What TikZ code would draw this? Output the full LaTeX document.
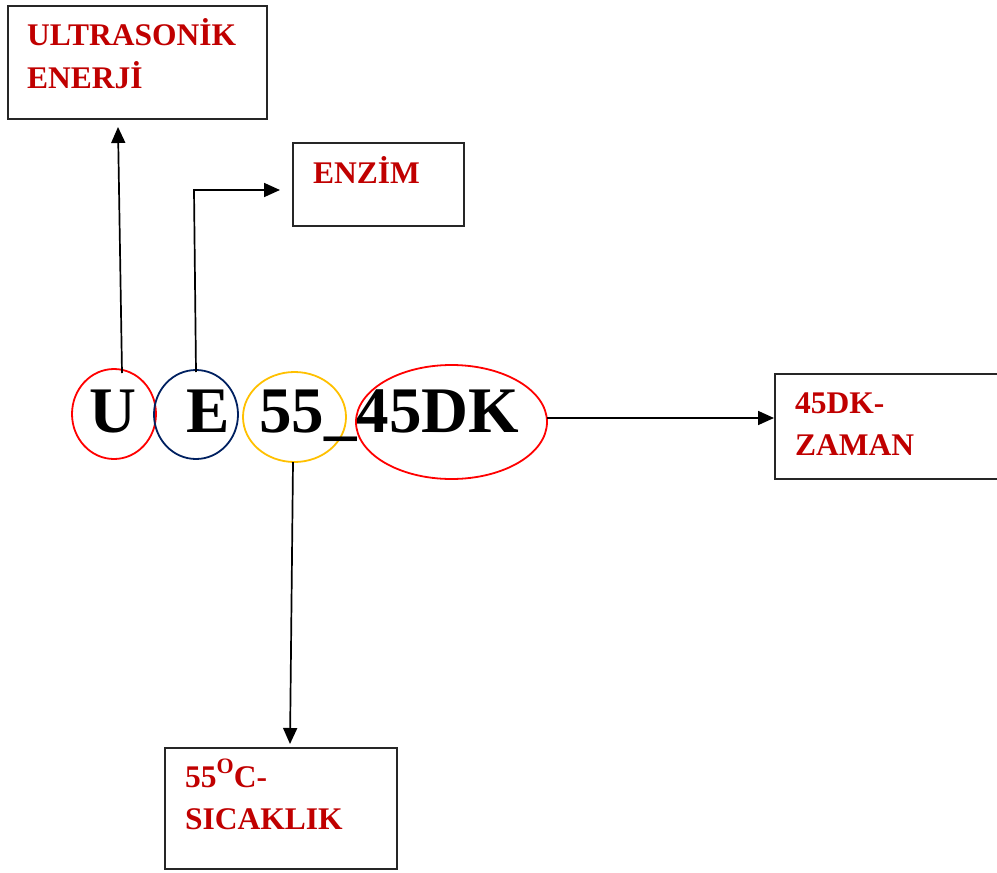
\documentclass[tikz,border=0pt]{standalone}
\usepackage{fontspec}
\setmainfont{Liberation Serif}
\usetikzlibrary{arrows.meta,shapes.geometric}
\definecolor{lblred}{HTML}{C00000}
\definecolor{cred}{HTML}{FF0000}
\definecolor{cnavy}{HTML}{002060}
\definecolor{cgold}{HTML}{FFC000}
\tikzset{
  box/.style={draw=black!85, line width=2pt, anchor=north west, inner sep=0pt},
  lbl/.style={anchor=base west, inner sep=0pt, text=lblred, font=\fontsize{31.5}{36}\selectfont\bfseries},
  big/.style={anchor=base, inner sep=0pt, font=\fontsize{65}{70}\selectfont\bfseries},
  ring/.style={draw, ellipse, line width=1.8pt, inner sep=0pt},
  arr/.style={line width=1.7pt, -{Triangle[length=16pt,width=14pt]}}
}
\begin{document}
\begin{tikzpicture}[x=1pt,y=-1pt]
\useasboundingbox (0,0) rectangle (997,873);
\begin{scope}
\clip (0,0) rectangle (997,873);
% boxes
\node[box, minimum width=259pt, minimum height=113pt] (b1) at (7,5) {};
\node[box, minimum width=171pt, minimum height=83pt] (b2) at (292,142) {};
\node[box, minimum width=240pt, minimum height=105pt] (b3) at (774,373) {};
\node[box, minimum width=232pt, minimum height=121pt] (b4) at (164,747) {};
\end{scope}
% box labels
\node[lbl] (t1a) at (27,45) {ULTRASONİK};
\node[lbl] (t1b) at (27,88) {ENERJİ};
\node[lbl] (t2) at (313,183) {ENZİM};
\node[lbl] (t3a) at (795,413) {45DK-};
\node[lbl] (t3b) at (795,455) {ZAMAN};
\node[lbl] (t4a) at (185,787) {55\raisebox{0.42em}{\fontsize{22}{24}\selectfont O}C-};
\node[lbl] (t4b) at (185,829) {SICAKLIK};
% rings
\node[ring, draw=cred, minimum width=84pt, minimum height=90pt] (cu) at (114,414) {};
\node[ring, draw=cnavy, minimum width=84pt, minimum height=89pt] (ce) at (196,414.5) {};
\node[ring, draw=cgold, minimum width=103pt, minimum height=90pt] (c5) at (294.5,417) {};
\node[ring, draw=cred, minimum width=191pt, minimum height=114pt] (cd) at (451.5,422) {};
% big letters
\node[big] (lu) at (113,432) {U};
\node[big] (le) at (208,432) {E};
\node[big, anchor=base west] (l5) at (259,432) {55\_45DK};
% connector end points
\coordinate (pu0) at (122,373);
\coordinate (pu1) at (118,127);
\coordinate (pe0) at (196,372);
\coordinate (pe1) at (194,190);
\coordinate (pe2) at (280,190);
\coordinate (pd0) at (547,418);
\coordinate (pd1) at (774,418);
\coordinate (p50) at (293,462);
\coordinate (p51) at (290,744);
% arrows
\draw[arr] (pu0) -- (pu1);
\draw[arr] (pe0) -- (pe1) -- (pe2);
\draw[arr] (pd0) -- (pd1);
\draw[arr] (p50) -- (p51);
\end{tikzpicture}
\end{document}
